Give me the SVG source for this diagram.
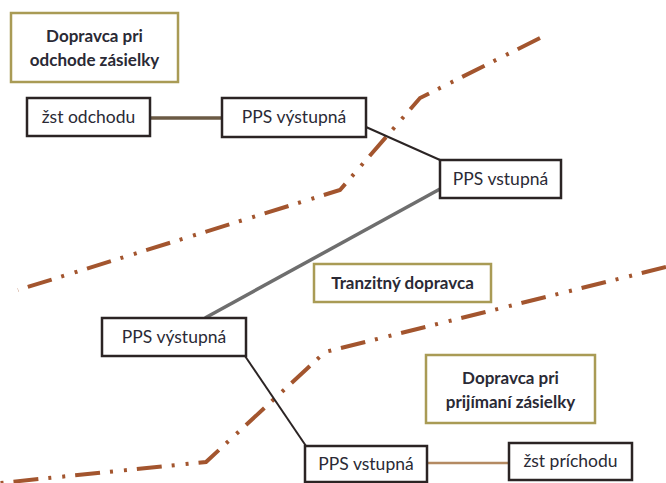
<svg xmlns="http://www.w3.org/2000/svg" width="666" height="483" viewBox="0 0 666 483">
<style>
.node rect{fill:#fff;stroke:#2b2424;stroke-width:2.5}
.title rect{fill:#fff;stroke:#a99b55;stroke-width:2.5}
text{font-family:Lato,"Open Sans","Liberation Sans",sans-serif;font-size:17.5px;fill:#2a2a35;text-anchor:middle}
.title text{font-weight:bold;font-size:17px}
.border{fill:none;stroke:#a3552e;stroke-width:4;stroke-dasharray:25 10 3 11 3 10}
</style>
<rect width="666" height="483" fill="#fff"/>
<g id="borders">
<polyline class="border" points="540,38 420,98 340,190 18,290"/>
<polyline class="border" points="666,267 325,352 206,462 0,483"/>
</g>
<g id="connectors" fill="none">
<line x1="150" y1="118" x2="222" y2="118" stroke="#6b5a44" stroke-width="3.5"/>
<line x1="366" y1="127" x2="440" y2="160" stroke="#2b2424" stroke-width="2"/>
<line x1="440" y1="189" x2="205" y2="318" stroke="#6e6e6e" stroke-width="3.5"/>
<line x1="245" y1="356" x2="306" y2="446" stroke="#2b2424" stroke-width="2"/>
<line x1="427" y1="463" x2="509" y2="463" stroke="#b48a62" stroke-width="2.5"/>
</g>
<g id="title-odchod" class="title">
<rect x="11" y="13" width="167" height="69"/>
<text x="94.5" y="42">Dopravca pri</text>
<text x="94.5" y="66">odchode zásielky</text>
</g>
<g id="zst-odchodu" class="node">
<rect x="27" y="98" width="123" height="38"/>
<text x="88.5" y="123">žst odchodu</text>
</g>
<g id="pps-vystupna-1" class="node">
<rect x="222" y="98" width="144" height="39"/>
<text x="294" y="123">PPS výstupná</text>
</g>
<g id="pps-vstupna-1" class="node">
<rect x="440" y="160" width="121" height="38"/>
<text x="500.5" y="185">PPS vstupná</text>
</g>
<g id="title-tranzit" class="title">
<rect x="314" y="264" width="177" height="38"/>
<text x="402.5" y="289">Tranzitný dopravca</text>
</g>
<g id="pps-vystupna-2" class="node">
<rect x="102" y="318" width="144" height="38"/>
<text x="174" y="343">PPS výstupná</text>
</g>
<g id="title-prijimanie" class="title">
<rect x="426" y="355" width="169" height="68"/>
<text x="510.5" y="384">Dopravca pri</text>
<text x="510.5" y="408">prijímaní zásielky</text>
</g>
<g id="pps-vstupna-2" class="node">
<rect x="305" y="446" width="122" height="36"/>
<text x="366" y="470">PPS vstupná</text>
</g>
<g id="zst-prichodu" class="node">
<rect x="509" y="443" width="123" height="37"/>
<text x="570.5" y="467">žst príchodu</text>
</g>
</svg>
